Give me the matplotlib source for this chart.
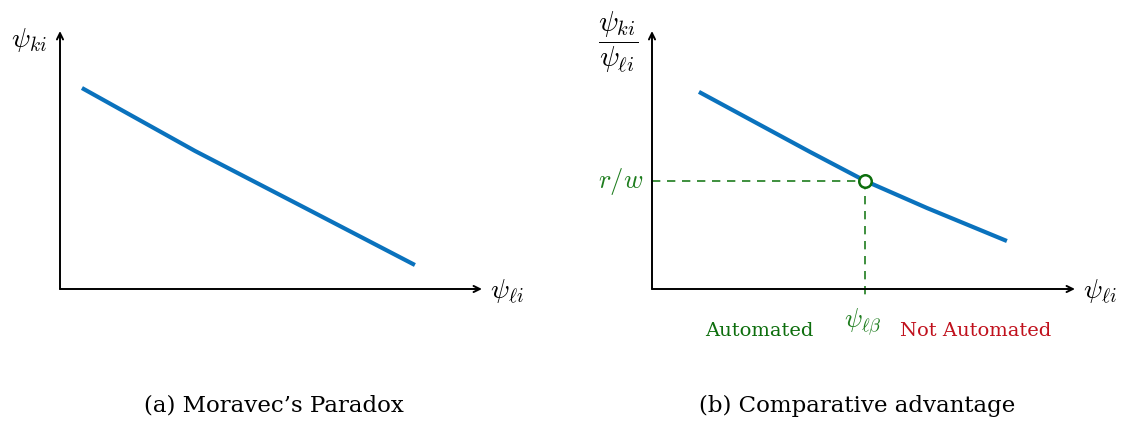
import matplotlib
matplotlib.use("Agg")
import matplotlib.pyplot as plt

plt.rcParams['mathtext.fontset'] = 'cm'

# ---- data (chart units, axes span 0..10) ----
left_x = [0.52, 3.20, 5.81, 8.41]
left_y = [7.79, 5.35, 3.14, 0.93]

right_x = [1.11, 3.74, 5.04, 6.50, 8.39]
right_y = [7.64, 5.31, 4.19, 3.14, 1.86]

cut_x = 5.04   # psi_{l beta}
cut_y = 4.19   # r/w

captions = ["(a) Moravec’s Paradox", "(b) Comparative advantage"]

BLUE = '#0a72bd'
GREEN = '#1e7d1e'
DGREEN = '#0d6e0d'
RED = '#c0101c'

W, H = 1127, 427
fig = plt.figure(figsize=(W/100, H/100), dpi=100)

def make_ax(x0, y0, x1, y1):
    ax = fig.add_axes([x0/W, 1 - y0/H, (x1-x0)/W, (y0-y1)/H])
    ax.set_xlim(0, 10)
    ax.set_ylim(0, 10)
    ax.axis('off')
    ap = dict(arrowstyle='->,head_length=0.45,head_width=0.22', lw=1.4, color='black',
              shrinkA=0, shrinkB=0)
    ax.annotate('', xy=(10, 0), xytext=(0, 0), arrowprops=ap, annotation_clip=False)
    ax.annotate('', xy=(0, 10), xytext=(0, 0), arrowprops=ap, annotation_clip=False)
    return ax

axL = make_ax(60, 290, 482, 32)
axR = make_ax(652, 290, 1075, 32)

# left panel
axL.plot(left_x, left_y, color=BLUE, lw=3.0, solid_capstyle='butt', solid_joinstyle='round')
axL.text(-0.3, 9.7, r'$\psi_{ki}$', fontsize=20, ha='right', va='center')
axL.text(10.2, -0.05, r'$\psi_{\ell i}$', fontsize=20, ha='left', va='center')

# right panel
axR.plot(right_x, right_y, color=BLUE, lw=3.0, solid_capstyle='butt',
         solid_joinstyle='round', zorder=2)
axR.plot([0, cut_x], [cut_y, cut_y], color=GREEN, lw=1.2, ls=(0, (5, 4)), zorder=1)
axR.plot([cut_x, cut_x], [cut_y, -0.28], color=GREEN, lw=1.2, ls=(0, (5, 4)),
         zorder=1, clip_on=False)
axR.plot([cut_x], [cut_y], marker='o', ms=9, mfc='white', mec=DGREEN, mew=1.8,
         zorder=3, clip_on=False)
axR.text(-0.2, cut_y, r'$r/w$', fontsize=19, ha='right', va='center', color=GREEN)
axR.text(-0.8, 9.6, r'$\dfrac{\psi_{ki}}{\psi_{\ell i}}$', fontsize=21,
         ha='center', va='center')
axR.text(10.2, -0.05, r'$\psi_{\ell i}$', fontsize=20, ha='left', va='center')
axR.text(cut_x - 0.05, -1.22, r'$\psi_{\ell\beta}$', fontsize=19, ha='center',
         va='center', color=GREEN)
axR.text(2.53, -1.6, 'Automated', fontsize=14, family='DejaVu Serif',
         ha='center', va='center', color=DGREEN)
axR.text(7.66, -1.6, 'Not Automated', fontsize=14, family='DejaVu Serif',
         ha='center', va='center', color=RED)

fig.text(274/W, 1 - 406/H, captions[0], fontsize=16.5, family='DejaVu Serif',
         ha='center', va='center')
fig.text(857/W, 1 - 406/H, captions[1], fontsize=16.5, family='DejaVu Serif',
         ha='center', va='center')

fig.savefig('out.png', dpi=100, facecolor='white')
